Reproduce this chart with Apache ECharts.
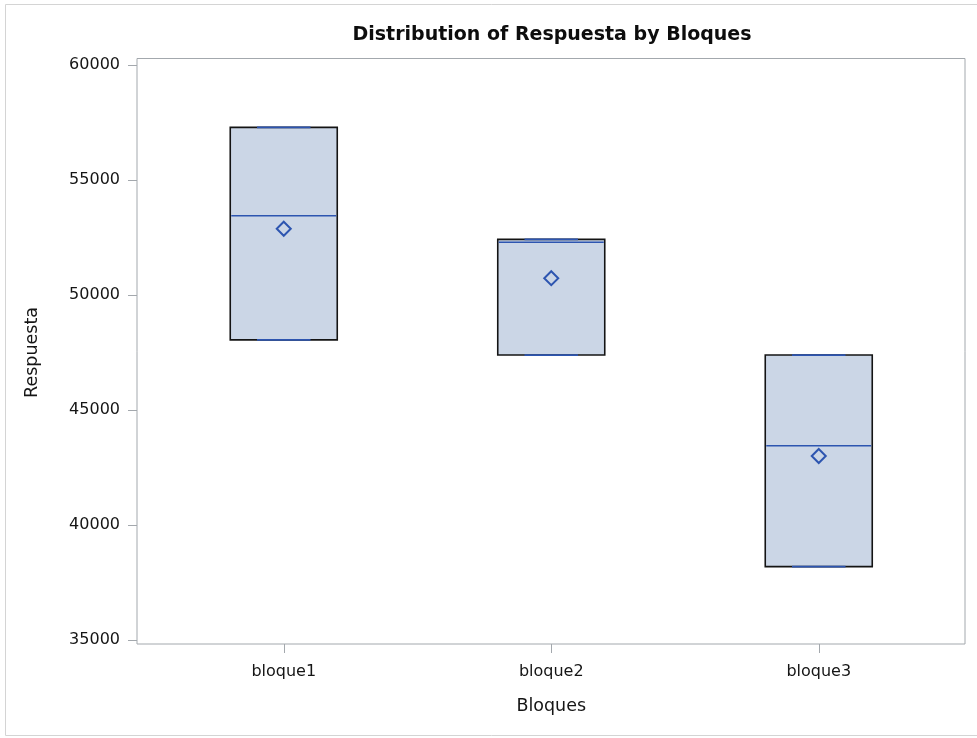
<!DOCTYPE html>
<html>
<head>
<meta charset="utf-8">
<style>
  html, body { margin: 0; padding: 0; background: #fff; }
  #chart { width: 977px; height: 738px; }
</style>
<script src="https://cdn.jsdelivr.net/npm/echarts@6/dist/echarts.min.js"></script>
</head>
<body>
<div id="chart"></div>
<script>
// Respuesta by block: three observations per block, so the box spans min..max
const categories = ['bloque1', 'bloque2', 'bloque3'];
const boxMin = [48050, 47390, 38190];
const boxMedian = [53450, 52290, 43450];
const boxMax = [57290, 52420, 47390];
const meanValues = [52880, 50730, 43000];
const yTicks = [35000, 40000, 45000, 50000, 55000, 60000];

const FONT = "'DejaVu Sans', 'Liberation Sans', Arial, sans-serif";
const AXIS_GRAY = '#a3a8ad';
const BOX_FILL = '#cbd6e6';
const BOX_EDGE = '#141414';
const STAT_BLUE = '#2d55b0';
const TEXT = '#151515';

const boxData = categories.map((c, i) => [i, boxMin[i], boxMedian[i], boxMax[i]]);
const meanData = categories.map((c, i) => [i, meanValues[i]]);

const chart = echarts.init(document.getElementById('chart'), null, { renderer: 'canvas' });

chart.setOption({
  animation: false,
  backgroundColor: '#fff',
  textStyle: { fontFamily: FONT },
  title: {
    text: 'Distribution of Respuesta by Bloques',
    left: 547,
    textAlign: 'center',
    top: 21,
    textStyle: { fontFamily: FONT, fontWeight: 'bold', fontSize: 19, color: '#0d0d0d' }
  },
  graphic: [{
    type: 'rect',
    silent: true,
    shape: { x: 5.5, y: 4.5, width: 1000, height: 731 },
    style: { fill: 'none', stroke: '#d4d4d4', lineWidth: 1 }
  }],
  grid: [
    // data area (category bands inset from the frame)
    { left: 150, right: 24.5, top: 65, bottom: 98, show: false },
    // plot frame
    { left: 137, right: 12, top: 58.5, bottom: 94, show: true,
      borderColor: AXIS_GRAY, borderWidth: 1, backgroundColor: 'transparent' }
  ],
  xAxis: [
    {
      type: 'category',
      gridIndex: 0,
      data: categories,
      boundaryGap: true,
      offset: 4,
      axisLine: { show: false },
      axisTick: { show: true, alignWithLabel: true, length: 9, lineStyle: { color: AXIS_GRAY } },
      axisLabel: { margin: 20, fontSize: 16, color: TEXT, fontFamily: FONT },
      splitLine: { show: false },
      name: 'Bloques',
      nameLocation: 'middle',
      nameGap: 53,
      nameTextStyle: { fontSize: 17.5, color: TEXT, fontFamily: FONT }
    },
    { type: 'value', gridIndex: 1, show: false, min: 0, max: 1 }
  ],
  yAxis: [
    {
      type: 'value',
      gridIndex: 0,
      min: 35000,
      max: 60000,
      interval: 5000,
      offset: 13,
      axisLine: { show: false },
      axisTick: { show: true, length: 9, lineStyle: { color: AXIS_GRAY }, customValues: yTicks },
      axisLabel: {
        margin: 17, fontSize: 16, color: TEXT, fontFamily: FONT, customValues: yTicks,
        formatter: function (v) { return String(v); }
      },
      splitLine: { show: false },
      name: 'Respuesta',
      nameLocation: 'middle',
      nameRotate: 90,
      nameGap: 96,
      nameTextStyle: { fontSize: 17.5, color: TEXT, fontFamily: FONT }
    },
    { type: 'value', gridIndex: 1, show: false, min: 0, max: 1 }
  ],
  series: [
    {
      type: 'custom',
      xAxisIndex: 0,
      yAxisIndex: 0,
      data: boxData,
      encode: { x: 0, y: [1, 2, 3] },
      renderItem: function (params, api) {
        const i = api.value(0);
        const lo = api.coord([i, api.value(1)]);
        const med = api.coord([i, api.value(2)]);
        const hi = api.coord([i, api.value(3)]);
        const bw = api.size([1, 0])[0] * 0.4;
        const cx = lo[0];
        const x0 = cx - bw / 2, x1 = cx + bw / 2;
        return {
          type: 'group',
          children: [
            {
              type: 'rect',
              shape: { x: x0, y: hi[1], width: bw, height: lo[1] - hi[1] },
              style: { fill: BOX_FILL, stroke: BOX_EDGE, lineWidth: 1.6 }
            },
            {
              type: 'line',
              shape: { x1: x0 + 1, y1: med[1], x2: x1 - 1, y2: med[1] },
              style: { stroke: STAT_BLUE, lineWidth: 1.5 }
            },
            {
              type: 'line',
              shape: { x1: cx - bw / 4, y1: hi[1], x2: cx + bw / 4, y2: hi[1] },
              style: { stroke: STAT_BLUE, lineWidth: 1.8 }
            },
            {
              type: 'line',
              shape: { x1: cx - bw / 4, y1: lo[1], x2: cx + bw / 4, y2: lo[1] },
              style: { stroke: STAT_BLUE, lineWidth: 1.8 }
            }
          ]
        };
      },
      z: 2
    },
    {
      type: 'scatter',
      xAxisIndex: 0,
      yAxisIndex: 0,
      data: meanData,
      symbol: 'diamond',
      symbolSize: 14,
      itemStyle: { color: 'rgba(0,0,0,0)', borderColor: STAT_BLUE, borderWidth: 2, opacity: 1 },
      emphasis: { disabled: true },
      z: 3
    }
  ]
});
</script>
</body>
</html>
